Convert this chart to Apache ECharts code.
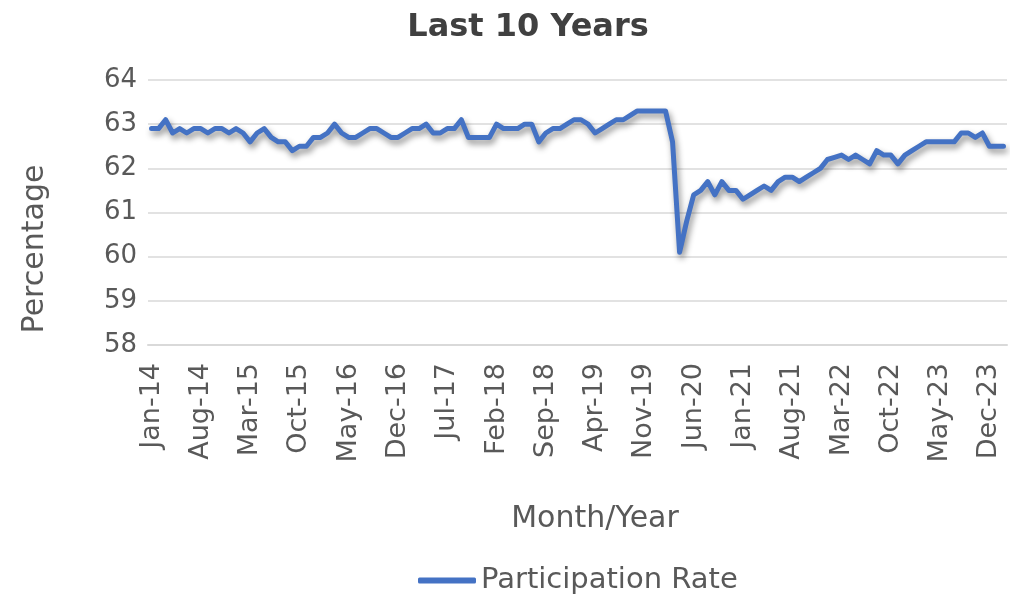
<!DOCTYPE html>
<html>
<head>
<meta charset="utf-8">
<script src="https://cdn.jsdelivr.net/npm/echarts@6/dist/echarts.min.js"></script>
<style>
html, body { margin: 0; padding: 0; background: #fff; }
#main { width: 1017px; height: 596px; }
</style>
</head>
<body>
<div id="main"></div>
<script>
// month labels
var monthNames = ['Jan','Feb','Mar','Apr','May','Jun','Jul','Aug','Sep','Oct','Nov','Dec'];
var startYear = 14;
var monthCount = 122; // Jan-14 .. Feb-24

// participation rate, one array per year
var rate2014 = [62.9, 62.9, 63.1, 62.8, 62.9, 62.8, 62.9, 62.9, 62.8, 62.9, 62.9, 62.8];
var rate2015 = [62.9, 62.8, 62.6, 62.8, 62.9, 62.7, 62.6, 62.6, 62.4, 62.5, 62.5, 62.7];
var rate2016 = [62.7, 62.8, 63.0, 62.8, 62.7, 62.7, 62.8, 62.9, 62.9, 62.8, 62.7, 62.7];
var rate2017 = [62.8, 62.9, 62.9, 63.0, 62.8, 62.8, 62.9, 62.9, 63.1, 62.7, 62.7, 62.7];
var rate2018 = [62.7, 63.0, 62.9, 62.9, 62.9, 63.0, 63.0, 62.6, 62.8, 62.9, 62.9, 63.0];
var rate2019 = [63.1, 63.1, 63.0, 62.8, 62.9, 63.0, 63.1, 63.1, 63.2, 63.3, 63.3, 63.3];
var rate2020 = [63.3, 63.3, 62.6, 60.1, 60.8, 61.4, 61.5, 61.7, 61.4, 61.7, 61.5, 61.5];
var rate2021 = [61.3, 61.4, 61.5, 61.6, 61.5, 61.7, 61.8, 61.8, 61.7, 61.8, 61.9, 62.0];
var rate2022 = [62.2, 62.25, 62.3, 62.2, 62.3, 62.2, 62.1, 62.4, 62.3, 62.3, 62.1, 62.3];
var rate2023 = [62.4, 62.5, 62.6, 62.6, 62.6, 62.6, 62.6, 62.8, 62.8, 62.7, 62.8, 62.5];
var rate2024 = [62.5, 62.5];

var rate = [].concat(rate2014, rate2015, rate2016, rate2017, rate2018, rate2019,
                     rate2020, rate2021, rate2022, rate2023, rate2024);

var categories = [];
for (var i = 0; i < monthCount; i++) {
    categories.push(monthNames[i % 12] + '-' + (startYear + Math.floor(i / 12)));
}

var grey = '#595959';
var font = 'DejaVu Sans';

var myChart = echarts.init(document.getElementById('main'));
myChart.setOption({
    animation: false,
    textStyle: { fontFamily: font },
    title: {
        text: 'Last 10 Years',
        left: 523,
        top: 7,
        textAlign: 'center',
        textStyle: { fontSize: 32, fontWeight: 'bold', color: '#404040', fontFamily: font }
    },
    grid: { left: 148, right: 10, top: 80, bottom: 251 },
    xAxis: {
        type: 'category',
        data: categories,
        boundaryGap: true,
        axisLine: { lineStyle: { color: '#d9d9d9', width: 2 } },
        axisTick: { interval: 6, length: 9, lineStyle: { color: '#d9d9d9', width: 2 } },
        axisLabel: { interval: 6, rotate: 90, margin: 18, color: grey, fontSize: 27, fontFamily: font }
    },
    yAxis: {
        type: 'value',
        min: 58,
        max: 64,
        interval: 1,
        axisLine: { show: false },
        axisTick: { show: false },
        splitLine: { lineStyle: { color: '#d9d9d9', width: 1.5 } },
        axisLabel: { color: grey, fontSize: 26, margin: 11, fontFamily: font }
    },
    legend: {
        left: 413,
        top: 561,
        icon: 'roundRect',
        itemWidth: 58,
        itemHeight: 6,
        textStyle: { color: grey, fontSize: 29, fontFamily: font }
    },
    graphic: [
        {
            type: 'text', x: 35, y: 249, rotation: Math.PI / 2,
            style: { text: 'Percentage', fontSize: 30, fill: grey, fontFamily: font, align: 'center', verticalAlign: 'middle' }
        },
        {
            type: 'text', x: 595, y: 519,
            style: { text: 'Month/Year', fontSize: 30, fill: grey, fontFamily: font, align: 'center', verticalAlign: 'middle' }
        }
    ],
    series: [{
        name: 'Participation Rate',
        type: 'line',
        data: rate,
        symbol: 'none',
        itemStyle: { color: '#4472C4' },
        lineStyle: {
            color: '#4472C4',
            width: 5,
            cap: 'round',
            join: 'round',
            shadowColor: 'rgba(0,0,0,0.45)',
            shadowBlur: 6,
            shadowOffsetX: 2,
            shadowOffsetY: 4
        }
    }]
});
</script>
</body>
</html>
